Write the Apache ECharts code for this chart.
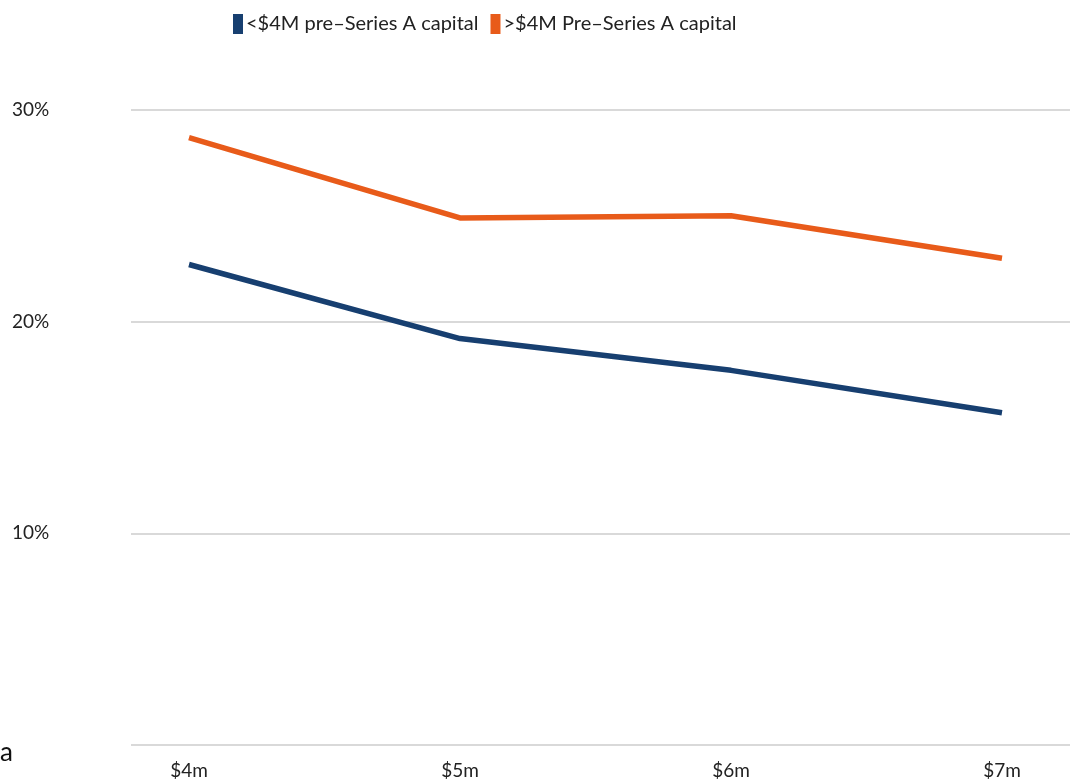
<!DOCTYPE html>
<html>
<head>
<meta charset="utf-8">
<script src="https://cdn.jsdelivr.net/npm/echarts@6/dist/echarts.min.js"></script>
<style>
  html, body { margin: 0; padding: 0; background: #fff; }
  #chart { width: 1070px; height: 780px; }
</style>
</head>
<body>
<div id="chart"></div>
<script>
const categories = [ '$4m', '$5m', '$6m', '$7m' ];
const under4m = [ 22.7, 19.2, 17.7, 15.7 ];
const over4m = [ 28.7, 24.9, 25.0, 23.0 ];
const seriesNames = [ '<$4M pre\u2013Series A capital', '>$4M Pre\u2013Series A capital' ];
const yTicks = [ 0, 10, 20, 30 ];

const font = 'Lato, "Noto Sans", sans-serif';
const blue = '#173f70';
const orange = '#e85b1a';

const toPoints = ( values ) => values.map( ( v, i ) => [ i, v ] );

const chart = echarts.init( document.getElementById( 'chart' ), null, { renderer: 'canvas' } );

chart.setOption( {
	animation: false,
	textStyle: { fontFamily: font },
	legend: {
		top: 9,
		left: 228,
		itemWidth: 10,
		itemHeight: 20,
		itemGap: 12,
		icon: 'rect',
		textStyle: { fontSize: 20, color: '#222', fontFamily: font, padding: [ 0, 0, 0, -2 ] },
		data: seriesNames
	},
	grid: { left: 131, right: 0, top: 110, bottom: 34 },
	xAxis: {
		type: 'value',
		min: -0.214,
		max: 3.251,
		splitLine: { show: false },
		axisLine: { show: false },
		axisTick: { show: false },
		axisLabel: {
			customValues: categories.map( ( c, i ) => i ),
			formatter: ( v ) => categories[ Math.round( v ) ],
			fontSize: 19,
			color: '#222',
			margin: 16
		}
	},
	yAxis: {
		type: 'value',
		min: yTicks[ 0 ],
		max: yTicks[ yTicks.length - 1 ],
		interval: 10,
		axisLine: { show: false },
		axisTick: { show: false },
		splitLine: { lineStyle: { color: '#d9d9d9', width: 2 } },
		axisLabel: {
			formatter: ( v ) => v === 0 ? '' : v + '%',
			fontSize: 19,
			color: '#222',
			align: 'left',
			margin: 119,
			padding: [ 0, 0, 2, 0 ]
		}
	},
	graphic: [ {
		type: 'text',
		left: 0,
		top: 740,
		style: { text: 'a', font: '26px ' + font, fill: '#111' }
	} ],
	series: [ {
		name: seriesNames[ 0 ],
		type: 'line',
		data: toPoints( under4m ),
		showSymbol: false,
		color: blue,
		lineStyle: { width: 5.5, color: blue }
	}, {
		name: seriesNames[ 1 ],
		type: 'line',
		data: toPoints( over4m ),
		showSymbol: false,
		color: orange,
		lineStyle: { width: 5.5, color: orange }
	} ]
} );
</script>
</body>
</html>
